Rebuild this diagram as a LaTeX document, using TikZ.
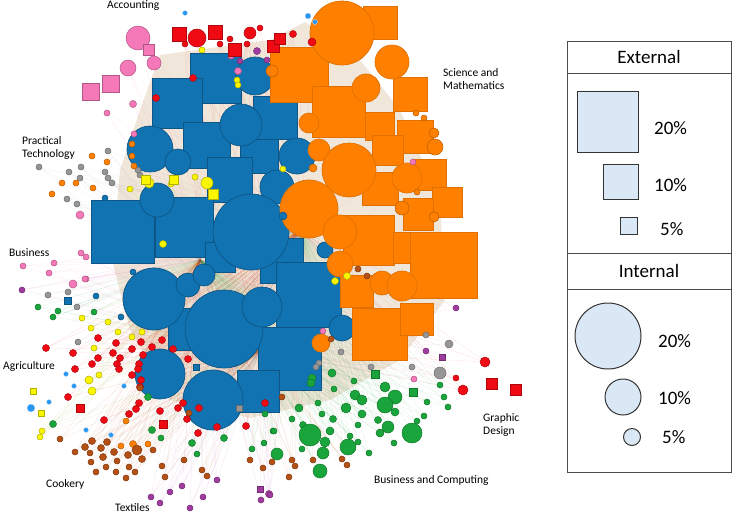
\documentclass[tikz,border=0pt]{standalone}
\usepackage{fontspec}
\setmainfont{Carlito}
\definecolor{nblue}{RGB}{17,115,178}
\definecolor{norange}{RGB}{255,128,0}
\definecolor{nred}{RGB}{240,10,20}
\definecolor{npink}{RGB}{245,120,185}
\definecolor{nyellow}{RGB}{250,245,0}
\definecolor{ngreen}{RGB}{25,165,60}
\definecolor{ngray}{RGB}{150,150,150}
\definecolor{nbrown}{RGB}{180,80,20}
\definecolor{npurple}{RGB}{160,60,160}
\definecolor{nsky}{RGB}{40,150,240}
\definecolor{legfill}{RGB}{218,232,246}
\definecolor{beige}{RGB}{236,224,208}

% small members, x/y/radius
\def\reddots{197/38/9,250/33/6,185/44/3,220/44/3,230/39/3,247/44/3,260/28/3,293/34/3.5,312/42/4,193/78/3.5,156/98/3.5,
  98/338/3.5,116/343/3.5,141/342/3.5,162/340/3.5,46/348/3.5,73/353/3.5,113/353/3.5,132/349/3.5,152/347/3.5,173/349/3.5,
  98/358/3.5,120/358/3.5,117/364/3.5,143/355/3.5,92/364/3.5,119/369/3.5,75/369/3.5,139/364/3.5,138/369/3.5,132/375/3.5,
  141/380/3.5,140/387/3.5,68/397/3.5,139/403/3.5,136/409/3.5,129/414/3.5,104/420/3.5,160/411/3.5,183/403/3.5,178/408/3.5,
  188/359/3.5,199/408/3.5,187/419/3.5,198/433/3.5,217/427/3.5,246/426/3.5,265/403/3.5,485/362/5,463/390/5,456/378/3}
\def\pinkdots{138/38/12,154/63/7,128/68/8,107/113/3,133/104/3.5,134/134/3,80/215/4,238/71/3.5,231/56/3,23/266/3,54/263/3,
  49/273/3,73/284/4,86/279/3,81/253/3,86/257/3,85/279/3,414/379/3,323/331/3,413/162/3}
\def\yellowdots{202/50/3,237/80/3,238/85/3,207/183/6,149/183/5,195/177/3,130/189/3,171/184/3,283/169/3,163/244/3.5,
  335/281/3.5,347/276/3.5,82/318/3,108/322/3,91/328/3,118/332/3,142/332/3,132/337/3,94/348/3,99/375/3,89/380/4,
  92/391/4,42/431/3,40/437/3}
\def\graydots{108/151/3,39/167/3,81/167/3,69/172/3,80/178/3,105/172/3,108/178/3,112/183/3,138/170/3,140/175/3,67/199/3,
  77/204/3,48/295/3,68/292/3,77/307/3,78/342/3,341/352/3,371/367/3,319/363/3,316/367/3,426/335/3,412/367/3,449/344/4,440/373/6}
\def\orangedots{132/144/3,132/156/3,92/156/3,107/162/3,62/183/3,76/183/3,93/188/3,52/194/3,134/166/3,126/421/3,121/446/3,
  133/444/3.5,148/444/3,272/71/6,313/168/4,434/133/5,435/147/8,416/113/3,424/118/3,417/192/3,434/217/5,402/208/7}
\def\purpledots{257/51/3.5,240/61/3,267/60/3,22/290/3,217/480/3,182/486/3,170/492/3,151/497/3,160/503/3,203/497/3,
  190/508/3,269/494/3.5,261/500/3,426/351/3,456/308/3,270/495/3}
\def\greendots{38/307/3,58/311/3,53/317/3,94/312/3,53/424/3.5,148/397/3.5,152/430/3.5,161/438/3,192/443/3.5,197/454/3,
  224/438/3.5,252/449/3,265/414/3,273/431/3,264/443/3,277/454/6,332/373/4,312/378/4,311/383/4,354/381/3,334/389/3,
  355/395/5,362/400/5,385/387/5,395/397/7,385/405/8,395/412/4,346/408/5,362/414/4,299/408/4,318/403/3,322/414/3,
  333/419/3.5,292/419/3,303/425/3.5,310/435/11,330/431/4,358/425/3,378/420/3.5,388/427/6,380/433/4,412/433/10,
  325/442/5,323/453/6,348/447/8,358/442/3,350/436/3,369/453/3,394/443/3,320/471/7,302/449/3,274/431/3,417/421/3,
  424/416/3,427/402/3,444/397/3,440/385/3,448/407/3}
\def\browndots{137/450/5,92/441/3.5,107/442/3.5,85/447/3.5,101/448/3.5,114/452/3.5,75/452/3,90/453/3,128/455/3.5,
  153/450/3,103/457/3.5,91/462/3,117/461/3,142/459/3.5,184/460/3,106/467/3,129/467/3,96/472/3,116/472/3,135/472/3,
  162/466/3,126/478/3,165/477/3,202/470/3,207/476/3,250/460/3,263/468/3,140/388/3,189/413/3,60/439/3,282/397/3,
  292/460/3,295/466/3,313/460/3,342/459/3,347/465/3,289/477/3,272/462/3,331/339/3,358/269/3,367/276/3}
\def\skydots{66/374/2.5,74/386/2.5,124/386/2.5,49/402/2.5,31/408/4,86/430/2.5,111/435/2.5,185/13/2.5,308/16/3,315/22/2.5}
\def\bluedots{96/296/3,121/317/3,133/272/3,283/216/4,105/198/3}
% squares, x/y/side
\def\redsq{179/34/14,215/32/14,234.5/50/13,273/46/12,279.5/39/11,80/408/8,163/424/8,492/384/11,516/390/11}
\def\pinksq{148.5/49.5/11,110.5/83.5/17,90.5/91.5/17}
\def\yellowsq{174/180/9,146/180/9,213/194/10,33/391/6,41/413/6}
\def\othersq{ngray/239/408/6,npurple/260/489/6,npurple/442/357/6,nblue/68/301/7,nblue/196/367/6,ngreen/375/374/8,ngreen/413/392/8}

\tikzset{
  edge/.style={#1, line width=0.25pt, opacity=0.16},
  ndot/.style={fill=#1, draw=#1!72!black, line width=0.5pt},
  nsq/.style={fill=#1, draw=#1!72!black, line width=0.5pt},
  bigblue/.style={fill=nblue, draw=nblue!75!black, line width=0.7pt},
  bigorange/.style={fill=norange, draw=norange!88!black, line width=0.7pt},
  area/.style={font=\fontsize{11.5}{13}\selectfont, align=left, anchor=west, inner sep=0pt},
  legtxt/.style={font=\fontsize{19}{21}\selectfont, inner sep=0pt},
  legshape/.style={fill=legfill, draw=black!80, line width=1pt},
}

\newcommand\dotgroup[2]{\foreach \x/\y/\r in #2 {\draw[ndot=#1] (\x,\y) circle[radius=\r];}}
\newcommand\sqgroup[2]{\foreach \x/\y/\s in #2 {\draw[nsq=#1] ({\x-\s/2},{\y-\s/2}) rectangle ++(\s,\s);}}
\newcommand\edgegroup[2]{\foreach \x/\y/\r in #2 {\draw[edge=#1] (\x,\y) -- (hubA) (\x,\y) -- (hubB) (\x,\y) -- (hubC);}}

\begin{document}
\begin{tikzpicture}[x=1pt,y=-1pt]
\useasboundingbox (0,0) rectangle (733,515);

\coordinate (hubA) at (200,260);
\coordinate (hubB) at (300,230);
\coordinate (hubC) at (260,350);

% textured middle
\fill[beige, opacity=0.8] (160,55) -- (270,40) -- (305,22) -- (360,60) -- (400,110) -- (440,200) -- (445,300)
  -- (400,360) -- (330,400) -- (250,418) -- (170,400) -- (130,330) -- (112,260) -- (120,170) -- (140,110) -- cycle;

\edgegroup{nred}{\reddots}
\edgegroup{npink}{\pinkdots}
\edgegroup{nyellow!70!black}{\yellowdots}
\edgegroup{ngray}{\graydots}
\edgegroup{ngreen}{\greendots}
\edgegroup{nbrown}{\browndots}
\edgegroup{npurple}{\purpledots}

% Business and Computing / Practical Technology block
\foreach \xa/\ya/\xb/\yb in {190/53/241/103,152/78/202/128,253/96/297/139,183/122/230/168,240/139/278/173,
  207/157/252/202,91/200/154/263,155/197/213/257,168/308/205/350,205/242/235/272,260/238/303/283,276/262/341/327,
  258/327/321/390,237/370/279/412}
  \draw[bigblue] (\xa,\ya) rectangle (\xb,\yb);
\foreach \x/\y/\r in {255/76/19,241/125/21,150/149/23,178/162/13,297/156/18,157/200/17,277/187/17,251/232/38,
  154/299/31,188/285/12,204/275/11,224/329/39,262/307/20,160/374/25,213/400/30,342/328/13,325/250/8}
  \draw[bigblue] (\x,\y) circle[radius=\r];

% Science and Mathematics block
\foreach \xa/\ya/\xb/\yb in {363/6/397/39,270/47/328/102,393/77/427/111,312/86/365/137,365/112/394/140,
  397/120/433/153,372/135/403/165,413/159/446/190,362/172/398/205,432/187/462/217,403/198/433/230,343/215/394/265,
  393/232/420/263,410/232/477/298,340/275/373/307,352/308/407/360,400/303/433/335}
  \draw[bigorange] (\xa,\ya) rectangle (\xb,\yb);
\foreach \x/\y/\r in {342/33/32,392/62/17,366/88/14,309/123/10,319/150/11,349/170/27,407/178/15,309/209/29,
  340/232/17,340/264/13,382/283/12,402/286/15,321/343/9}
  \draw[bigorange] (\x,\y) circle[radius=\r];

\dotgroup{nred}{\reddots}
\dotgroup{npink}{\pinkdots}
\dotgroup{nyellow}{\yellowdots}
\dotgroup{ngray}{\graydots}
\dotgroup{norange}{\orangedots}
\dotgroup{npurple}{\purpledots}
\dotgroup{ngreen}{\greendots}
\dotgroup{nbrown}{\browndots}
\dotgroup{nblue}{\bluedots}
\foreach \x/\y/\r in \skydots {\draw[fill=nsky, draw=nsky!30] (\x,\y) circle[radius=\r];}
\sqgroup{nred}{\redsq}
\sqgroup{npink}{\pinksq}
\sqgroup{nyellow}{\yellowsq}
\foreach \c/\x/\y/\s in \othersq {\draw[nsq=\c] ({\x-\s/2},{\y-\s/2}) rectangle ++(\s,\s);}

% area names
\node[area] (acc) at (107,6) {Accounting};
\node[area] (sci) at (443,79) {Science and\\Mathematics};
\node[area] (prac) at (22,148) {Practical\\Technology};
\node[area] (bus) at (9,253) {Business};
\node[area] (agr) at (3,366) {Agriculture};
\node[area] (cook) at (46,484) {Cookery};
\node[area] (tex) at (115,508) {Textiles};
\node[area] (gra) at (483,425) {Graphic\\Design};
\node[area] (bc) at (374,480) {Business and Computing};

% legend
\draw[black!70, line width=0.8pt] (567,41) rectangle (731,472);
\draw[black!70, line width=0.8pt] (567,73) -- (731,73) (567,253) -- (731,253) (567,289) -- (731,289);
\node[legtxt] (ext) at (649,57) {External};
\node[legtxt] (int) at (649,271) {Internal};
\draw[legshape] (577,91) rectangle (638,152);
\draw[legshape] (603,164) rectangle (638,199);
\draw[legshape] (620,217) rectangle (637,234);
\draw[legshape] (608,336) circle[radius=33];
\draw[legshape] (623,397) circle[radius=18];
\draw[legshape] (632,437) circle[radius=8.5];
\node[legtxt, anchor=west] (e20) at (654,128) {20\%};
\node[legtxt, anchor=west] (e10) at (654,185) {10\%};
\node[legtxt, anchor=west] (e5) at (660,229) {5\%};
\node[legtxt, anchor=west] (i20) at (658,341) {20\%};
\node[legtxt, anchor=west] (i10) at (658,398) {10\%};
\node[legtxt, anchor=west] (i5) at (662,437) {5\%};
\end{tikzpicture}
\end{document}
